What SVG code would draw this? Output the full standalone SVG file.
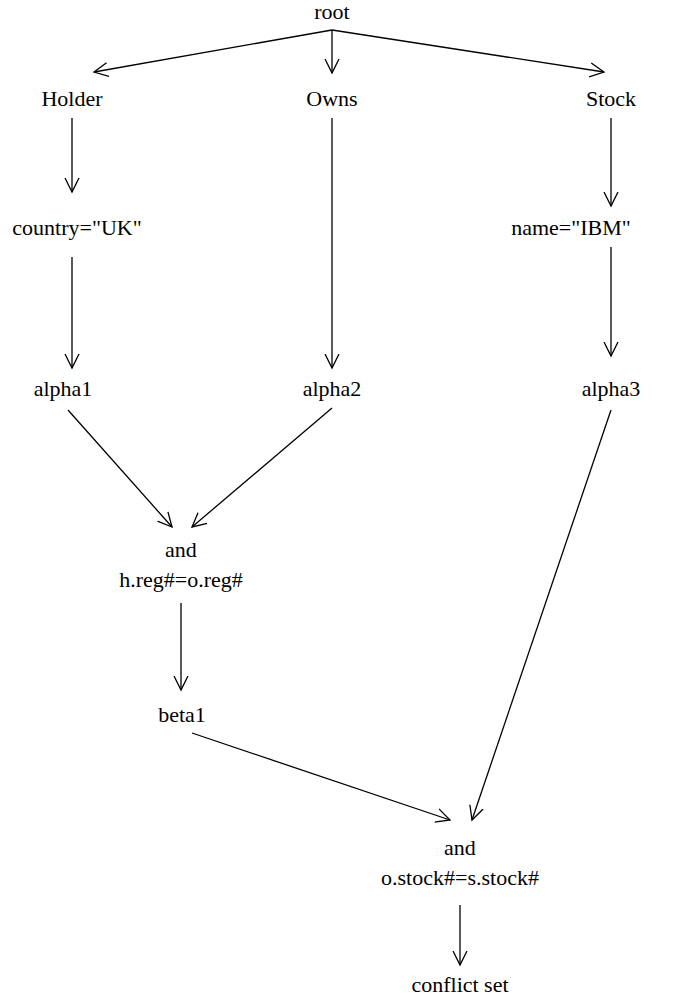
<svg xmlns="http://www.w3.org/2000/svg" width="688" height="998" viewBox="0 0 688 998">
<style>
.t text{font-size:22px;fill:#000;text-anchor:middle}
.c line{stroke:#000;stroke-width:1.3;marker-end:url(#ah)}
</style>
<defs>
<marker id="ah" markerUnits="userSpaceOnUse" markerWidth="20" markerHeight="20" refX="14" refY="7" orient="auto" viewBox="0 0 20 14">
<path d="M0,0 L14,7 L0,14" fill="none" stroke="#000" stroke-width="1.3"/>
</marker>
</defs>
<rect width="688" height="998" fill="#fff"/>
<g class="t" font-family="'Liberation Serif', 'Times New Roman', Times, serif">
<g id="root"><text x="332" y="19">root</text></g>
<g id="holder"><text x="72" y="106">Holder</text></g>
<g id="owns"><text x="332" y="106">Owns</text></g>
<g id="stock"><text x="611" y="106">Stock</text></g>
<g id="country"><text x="77" y="235">country="UK"</text></g>
<g id="name"><text x="571" y="235">name="IBM"</text></g>
<g id="alpha1"><text x="63" y="396">alpha1</text></g>
<g id="alpha2"><text x="332" y="396">alpha2</text></g>
<g id="alpha3"><text x="611" y="396">alpha3</text></g>
<g id="and1"><text x="181" y="557">and</text><text x="181" y="587">h.reg#=o.reg#</text></g>
<g id="beta1"><text x="182" y="722">beta1</text></g>
<g id="and2"><text x="460" y="855">and</text><text x="460" y="885">o.stock#=s.stock#</text></g>
<g id="conflict"><text x="460" y="992">conflict set</text></g>
</g>
<g class="c" id="connectors">
<line x1="332" y1="30" x2="94" y2="72"/>
<line x1="332" y1="30" x2="332" y2="73"/>
<line x1="332" y1="30" x2="604" y2="72"/>
<line x1="72" y1="118" x2="72" y2="192"/>
<line x1="332" y1="118" x2="332" y2="368"/>
<line x1="611" y1="118" x2="611" y2="206"/>
<line x1="72" y1="257" x2="72" y2="368"/>
<line x1="611" y1="247" x2="611" y2="356"/>
<line x1="68" y1="410" x2="172" y2="527"/>
<line x1="332" y1="408" x2="192" y2="527"/>
<line x1="181" y1="603" x2="181" y2="690"/>
<line x1="192" y1="733" x2="450" y2="820"/>
<line x1="611" y1="410" x2="472" y2="820"/>
<line x1="460" y1="905" x2="460" y2="965"/>
</g>
</svg>
